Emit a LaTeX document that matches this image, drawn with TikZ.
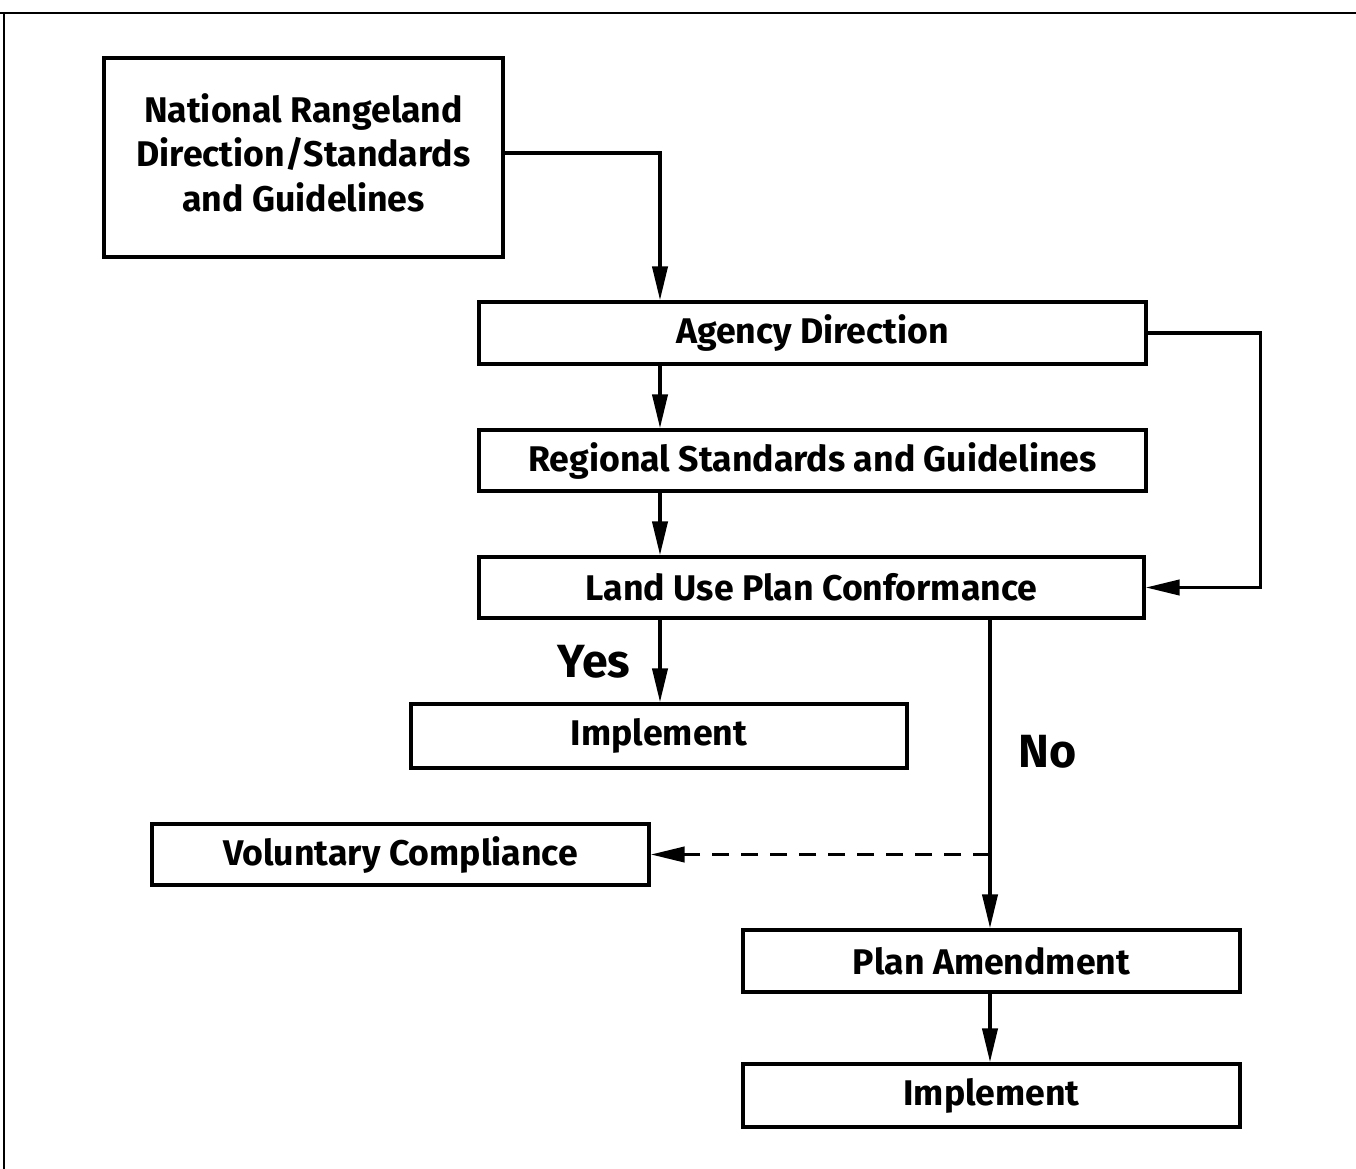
\documentclass[tikz,border=0pt]{standalone}
\usepackage{fontspec}
\setmainfont{Fira Sans}
\usetikzlibrary{arrows.meta}
\begin{document}
\begin{tikzpicture}[x=0.02cm,y=-0.02cm,
  box/.style={draw=black,line width=1.8pt,inner sep=0pt,align=center,font=\fontsize{20.3}{25.5}\selectfont\bfseries},
  conn/.style={line width=2.2pt,-{Triangle[length=0.68cm,width=0.3cm]}},
  lbl/.style={font=\fontsize{26.5}{30}\selectfont\bfseries}]
\useasboundingbox (0,0) rectangle (1356,1169);
\fill[white] (0,0) rectangle (1356,1169);
\draw[line width=1.5pt] (0,13) -- (1356,13);
\draw[line width=1.2pt] (4,13) -- (4,1169);
\node[box,minimum width=7.98cm,minimum height=3.98cm,text depth=0.2cm] (nat) at (303.5,157.5) {National Rangeland\\Direction/Standards\\and Guidelines};
\node[box,minimum width=13.34cm,minimum height=1.24cm] (ag) at (812.5,333) {Agency Direction};
\node[box,minimum width=13.34cm,minimum height=1.22cm] (reg) at (812.5,460.5) {Regional Standards and Guidelines};
\node[box,minimum width=13.3cm,minimum height=1.22cm] (land) at (811.5,587.5) {Land Use Plan Conformance};
\node[box,minimum width=9.92cm,minimum height=1.28cm] (imp1) at (659,736) {Implement};
\node[box,minimum width=9.94cm,minimum height=1.22cm] (vol) at (400.5,854.5) {Voluntary Compliance};
\node[box,minimum width=9.94cm,minimum height=1.24cm] (plan) at (991.5,961) {Plan Amendment};
\node[box,minimum width=9.94cm,minimum height=1.26cm] (imp2) at (991.5,1095.5) {Implement};
\coordinate (colA) at (660,0);
\coordinate (colB) at (990,0);
\coordinate (natR) at (503,153);
\coordinate (dash) at (990,854.5);
\node[lbl] (yes) at (594,662) {Yes};
\node[lbl] (no) at (1048,752) {No};
\draw[conn] (nat.east |- natR) -| (ag.north -| colA);
\draw[conn] (ag.south -| colA) -- (reg.north -| colA);
\draw[conn] (reg.south -| colA) -- (land.north -| colA);
\draw[conn] (land.south -| colA) -- (imp1.north -| colA);
\draw[conn] (ag.east) -- ++(113,0) |- (land.east);
\draw[conn] (land.south -| colB) -- (plan.north -| colB);
\draw[conn,dash pattern=on 0.34cm off 0.24cm] (dash) -- (vol.east);
\draw[conn] (plan.south -| colB) -- (imp2.north -| colB);
\end{tikzpicture}
\end{document}
